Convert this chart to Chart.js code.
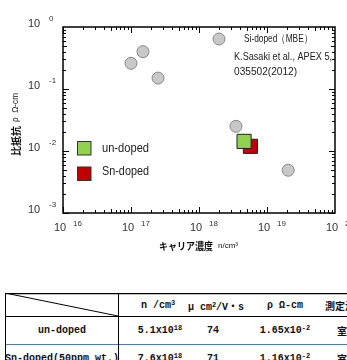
<!DOCTYPE html>
<html>
<head>
<meta charset="utf-8">
<script src="https://cdn.jsdelivr.net/npm/chart.js@4/dist/chart.umd.min.js"></script>
<style>
  html, body { margin: 0; padding: 0; background: #fff; overflow: hidden; width: 347px; height: 360px; }
  #wrap { position: relative; width: 347px; height: 360px; }
  #chart { position: absolute; left: 0; top: 0; }
  #tbl { position: absolute; left: 5px; top: 293px; width: 400px; height: 80px;
         font-family: "Liberation Mono", "Noto Sans CJK JP", monospace; font-weight: bold; font-size: 10px; color: #111; }
  #tbl span { position: absolute; white-space: nowrap; transform: translate(-50%, -50%); }
  #tbl span.l { transform: translate(0, -50%); }
  #tbl sup { font-size: 7px; vertical-align: 3px; }
</style>
</head>
<body>
<div id="wrap">
  <canvas id="chart" width="347" height="290"></canvas>
  <div id="tbl">
    <svg width="400" height="80" style="position:absolute;left:0;top:0">
      <line x1="0" y1="0.5" x2="400" y2="0.5" stroke="#000" stroke-width="1.5"/>
      <line x1="0" y1="23.5" x2="400" y2="23.5" stroke="#000" stroke-width="1"/>
      <line x1="0" y1="51.5" x2="400" y2="51.5" stroke="#4a7ebb" stroke-width="1.2"/>
      <line x1="0.5" y1="0" x2="0.5" y2="80" stroke="#000" stroke-width="1"/>
      <line x1="113.5" y1="0" x2="113.5" y2="80" stroke="#000" stroke-width="1"/>
      <line x1="0" y1="0" x2="113" y2="23" stroke="#000" stroke-width="1"/>
    </svg>
  </div>
</div>
<script>
// Si-doped (MBE) data, K.Sasaki et al.
const siX = [1.0e17, 1.5e17, 2.5e17, 3.5e18, 2.05e19];
const siY = [0.26, 0.40, 0.15, 0.025, 0.0049];
// this work
const undopedX = [4.6e18];
const undopedY = [0.0143];
const snX = [5.7e18];
const snY = [0.0119];

// tick labels (powers of ten)
const xTickExps = [16, 17, 18, 19, 20];
const yTickExps = [0, -1, -2, -3];

// table
const tableHead = ["n /cm<sup>3</sup>", "μ cm<sup>2</sup>/V・s", "ρ Ω-cm", "測定温度"];
const tableRowNames = ["un-doped", "Sn-doped(50ppm wt.)"];
const tableN = ["5.1x10<sup>18</sup>", "7.6x10<sup>18</sup>"];
const tableMu = ["74", "71"];
const tableRho = ["1.65x10<sup>-2</sup>", "1.16x10<sup>-2</sup>"];
const tableTemp = ["室温", "室温"];

// build the table text
const tbl = document.getElementById("tbl");
function cell(html, x, y, left) {
  const s = document.createElement("span");
  if (left) s.className = "l";
  s.innerHTML = html;
  s.style.left = x + "px";
  s.style.top = y + "px";
  tbl.appendChild(s);
}
const colX = [153, 211, 280];
tableHead.forEach((h, i) => {
  if (i < 3) cell(h, colX[i], 12); else cell(h, 320, 12, true);
});
const rowY = [37, 65];
tableRowNames.forEach((name, r) => {
  cell(name, 57, rowY[r]);
  cell(tableN[r], 155, rowY[r]);
  cell(tableMu[r], 208, rowY[r]);
  cell(tableRho[r], 280, rowY[r]);
  cell(tableTemp[r], 332, rowY[r], true);
});

const toPts = (xs, ys) => xs.map((v, i) => ({ x: v, y: ys[i] }));

const fontSans = '"Liberation Sans", Arial, sans-serif';
const fontCJK = '"Noto Sans CJK JP", sans-serif';

const decorPlugin = {
  id: "decor",
  afterDraw(chart) {
    const { ctx, chartArea: a, scales: { x, y } } = chart;
    ctx.save();
    ctx.strokeStyle = "#000";
    ctx.lineWidth = 1;

    // inward ticks on all four sides
    ctx.beginPath();
    for (let e = xTickExps[0]; e < xTickExps[xTickExps.length - 1]; e++) {
      for (let m = 1; m < 10; m++) {
        const px = Math.round(x.getPixelForValue(m * Math.pow(10, e))) + 0.5;
        const len = m === 1 ? 6 : (m === 5 ? 4 : 3);
        ctx.moveTo(px, a.top); ctx.lineTo(px, a.top + len);
        ctx.moveTo(px, a.bottom); ctx.lineTo(px, a.bottom - len);
      }
    }
    for (let e = yTickExps[yTickExps.length - 1]; e < yTickExps[0]; e++) {
      for (let m = 1; m < 10; m++) {
        const py = Math.round(y.getPixelForValue(m * Math.pow(10, e))) + 0.5;
        const len = m === 1 ? 6 : (m === 5 ? 4 : 3);
        ctx.moveTo(a.left, py); ctx.lineTo(a.left + len, py);
        ctx.moveTo(a.right, py); ctx.lineTo(a.right - len, py);
      }
    }
    ctx.stroke();

    // frame
    ctx.lineWidth = 1.5;
    ctx.strokeRect(a.left, a.top, a.right - a.left, a.bottom - a.top);

    // tick labels
    ctx.fillStyle = "#333";
    ctx.textBaseline = "middle";
    xTickExps.forEach(e => {
      const px = x.getPixelForValue(Math.pow(10, e));
      ctx.font = "11px " + fontSans;
      ctx.textAlign = "center";
      ctx.fillText("10", px - 3, a.bottom + 15);
      ctx.font = "8px " + fontSans;
      ctx.textAlign = "left";
      ctx.fillText(String(e), px + 10, a.bottom + 11);
    });
    yTickExps.forEach(e => {
      const py = y.getPixelForValue(Math.pow(10, e));
      ctx.font = "11px " + fontSans;
      ctx.textAlign = "center";
      ctx.fillText("10", 34, py - 3);
      ctx.font = "8px " + fontSans;
      ctx.textAlign = "left";
      ctx.fillText(String(e), 49, py - 8);
    });

    // axis titles
    ctx.fillStyle = "#111";
    ctx.textAlign = "left";
    ctx.font = "bold 10px " + fontCJK;
    ctx.fillText("キャリア濃度", 159, 246, 54);
    ctx.font = "8px " + fontSans;
    ctx.fillText("n/cm³", 218, 246, 22);

    ctx.save();
    ctx.translate(16, 156);
    ctx.rotate(-Math.PI / 2);
    ctx.font = "bold 10px " + fontCJK;
    ctx.fillText("比抵抗", 0, 0, 30);
    ctx.font = "9px " + fontSans;
    ctx.fillText("ρ  Ω-cm", 34, 0, 29);
    ctx.restore();

    // legend (lower left)
    ctx.lineWidth = 1;
    ctx.strokeStyle = "#333";
    ctx.fillStyle = "#92d050";
    ctx.fillRect(77.5, 141.5, 13.5, 13.5);
    ctx.strokeRect(77.5, 141.5, 13.5, 13.5);
    ctx.fillStyle = "#c00000";
    ctx.fillRect(77.5, 167, 13.5, 13.5);
    ctx.strokeRect(77.5, 167, 13.5, 13.5);
    ctx.fillStyle = "#222";
    ctx.font = "12px " + fontSans;
    ctx.fillText("un-doped", 102, 149, 47);
    ctx.fillText("Sn-doped", 102, 172, 47);

    // legend (upper right)
    ctx.beginPath();
    ctx.arc(219, 39, 6, 0, Math.PI * 2);
    ctx.fillStyle = "#c8c8c8";
    ctx.fill();
    ctx.strokeStyle = "#888";
    ctx.stroke();
    ctx.fillStyle = "#222";
    ctx.font = "11px " + fontSans;
    ctx.fillText("Si-doped（MBE）", 244, 39, 68);
    ctx.fillText("K.Sasaki et al., APEX 5,", 234, 57, 98);
    ctx.fillText("035502(2012)", 234, 72, 63);

    ctx.restore();
  }
};

new Chart(document.getElementById("chart").getContext("2d"), {
  type: "scatter",
  data: {
    datasets: [
      {
        label: "un-doped",
        data: toPts(undopedX, undopedY),
        pointStyle: "rect",
        pointRadius: 10,
        backgroundColor: "#92d050",
        borderColor: "#222",
        borderWidth: 1
      },
      {
        label: "Sn-doped",
        data: toPts(snX, snY),
        pointStyle: "rect",
        pointRadius: 10,
        backgroundColor: "#c00000",
        borderColor: "#222",
        borderWidth: 1
      },
      {
        label: "Si-doped (MBE)",
        data: toPts(siX, siY),
        pointStyle: "circle",
        pointRadius: 6,
        backgroundColor: "#c8c8c8",
        borderColor: "#888",
        borderWidth: 1
      }
    ]
  },
  options: {
    responsive: false,
    animation: false,
    devicePixelRatio: 1,
    layout: { padding: { left: 63, right: 12, top: 27, bottom: 77 } },
    plugins: {
      legend: { display: false },
      tooltip: { enabled: false }
    },
    scales: {
      x: { type: "logarithmic", min: 1e16, max: 1e20, display: false },
      y: { type: "logarithmic", min: 1e-3, max: 1, display: false }
    }
  },
  plugins: [decorPlugin]
});
</script>
</body>
</html>
